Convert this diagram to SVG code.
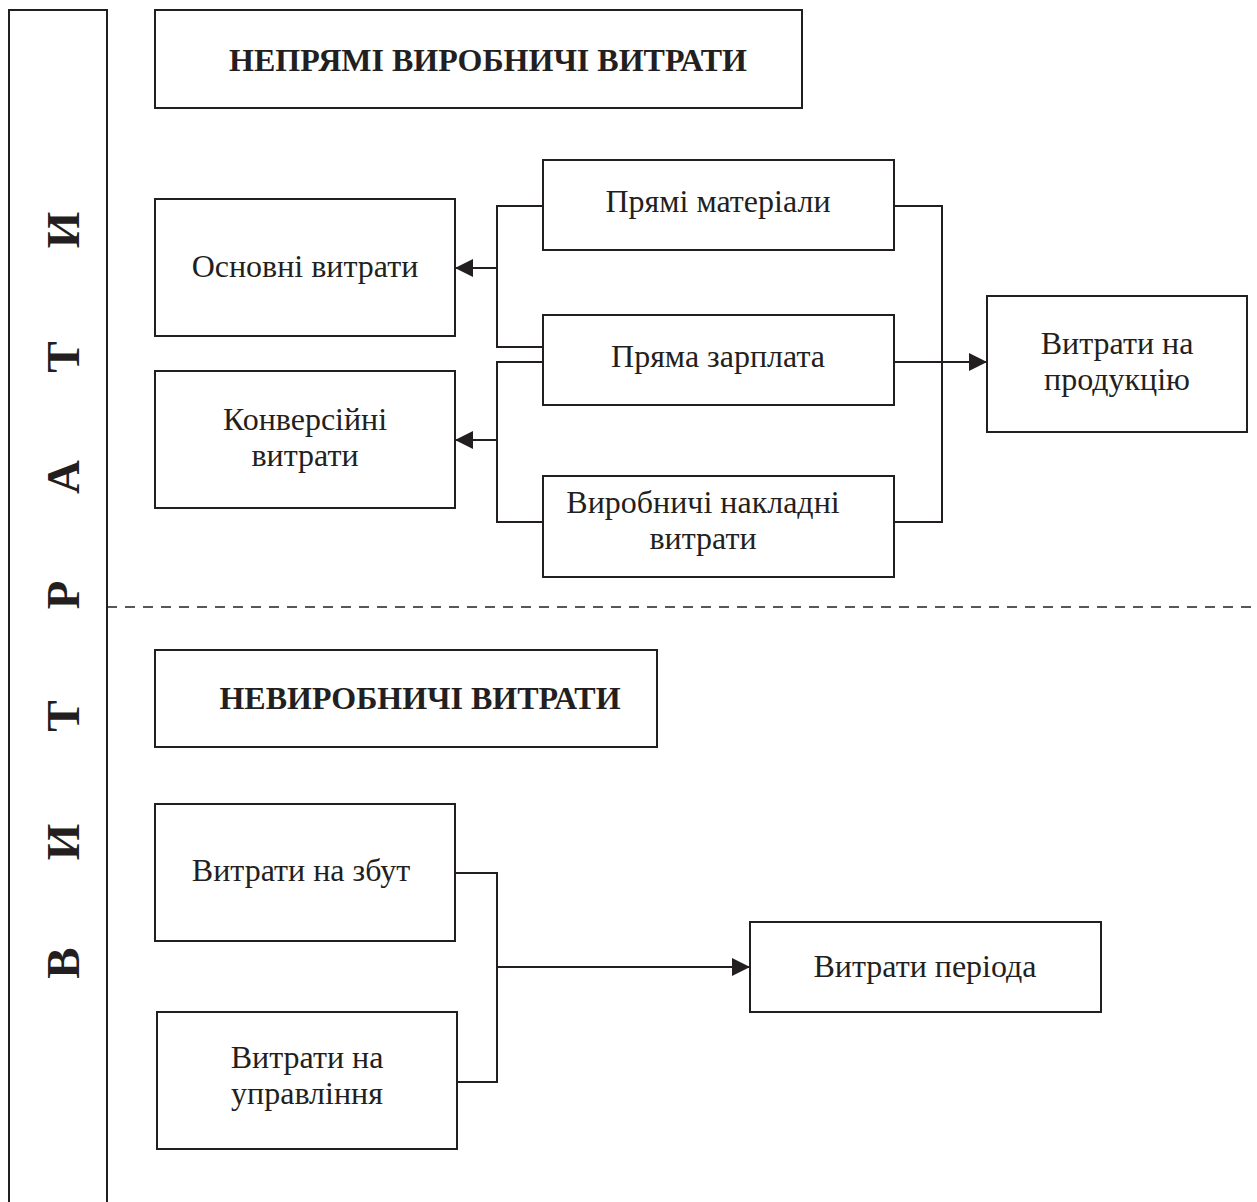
<svg xmlns="http://www.w3.org/2000/svg" width="1257" height="1202" viewBox="0 0 1257 1202">
<defs>
<style>
.box{fill:#fff;stroke:#231f20;stroke-width:2}
.ln{fill:none;stroke:#231f20;stroke-width:2}
.t{font-family:"Liberation Serif","Times New Roman",serif;font-size:32px;fill:#231f20;text-anchor:middle}
.b{font-family:"Liberation Serif","Times New Roman",serif;font-size:32px;font-weight:bold;fill:#231f20;text-anchor:middle}
.v{font-family:"Liberation Serif","Times New Roman",serif;font-size:47px;font-weight:bold;fill:#231f20;text-anchor:middle}
</style>
<marker id="ar" viewBox="0 0 10 10" refX="10" refY="5" markerWidth="18" markerHeight="18" markerUnits="userSpaceOnUse" orient="auto">
<path d="M0,0 L10,5 L0,10 z" fill="#231f20"/>
</marker>
</defs>
<rect width="1257" height="1202" fill="#fff"/>
<g id="side">
<path class="ln" d="M9,1202 V10 H107 V1202"/>
<text class="v" transform="translate(79,963) rotate(-90)">В</text>
<text class="v" transform="translate(79,842) rotate(-90)">И</text>
<text class="v" transform="translate(79,716) rotate(-90)">Т</text>
<text class="v" transform="translate(79,595) rotate(-90)">Р</text>
<text class="v" transform="translate(79,477) rotate(-90)">А</text>
<text class="v" transform="translate(79,357) rotate(-90)">Т</text>
<text class="v" transform="translate(79,230) rotate(-90)">И</text>
</g>
<g id="divider">
<line x1="107" y1="607" x2="1257" y2="607" stroke="#231f20" stroke-width="1.5" stroke-dasharray="10,8"/>
</g>
<g id="connectors">
<path class="ln" d="M543,206 H497 V347 H543"/>
<path class="ln" d="M497,268 H455" marker-end="url(#ar)"/>
<path class="ln" d="M543,362 H497 V522 H543"/>
<path class="ln" d="M497,440 H455" marker-end="url(#ar)"/>
<path class="ln" d="M894,206 H942 V522 H894"/>
<path class="ln" d="M894,362 H987" marker-end="url(#ar)"/>
<path class="ln" d="M455,873 H497 V1082 H457"/>
<path class="ln" d="M497,967 H750" marker-end="url(#ar)"/>
</g>
<g id="n-indirect">
<rect class="box" x="155" y="10" width="647" height="98"/>
<text class="b" x="488" y="71">НЕПРЯМІ ВИРОБНИЧІ ВИТРАТИ</text>
</g>
<g id="n-basic">
<rect class="box" x="155" y="199" width="300" height="137"/>
<text class="t" x="305" y="277">Основні витрати</text>
</g>
<g id="n-conv">
<rect class="box" x="155" y="371" width="300" height="137"/>
<text class="t" x="305" y="430">Конверсійні</text>
<text class="t" x="305" y="466">витрати</text>
</g>
<g id="n-mat">
<rect class="box" x="543" y="160" width="351" height="90"/>
<text class="t" x="718" y="212">Прямі матеріали</text>
</g>
<g id="n-wage">
<rect class="box" x="543" y="315" width="351" height="90"/>
<text class="t" x="718" y="367">Пряма зарплата</text>
</g>
<g id="n-overhead">
<rect class="box" x="543" y="476" width="351" height="101"/>
<text class="t" x="703" y="513">Виробничі накладні</text>
<text class="t" x="703" y="549">витрати</text>
</g>
<g id="n-product">
<rect class="box" x="987" y="296" width="260" height="136"/>
<text class="t" x="1117" y="354">Витрати на</text>
<text class="t" x="1117" y="390">продукцію</text>
</g>
<g id="n-nonprod">
<rect class="box" x="155" y="650" width="502" height="97"/>
<text class="b" x="420" y="709">НЕВИРОБНИЧІ ВИТРАТИ</text>
</g>
<g id="n-sales">
<rect class="box" x="155" y="804" width="300" height="137"/>
<text class="t" x="301" y="881">Витрати на збут</text>
</g>
<g id="n-admin">
<rect class="box" x="157" y="1012" width="300" height="137"/>
<text class="t" x="307" y="1068">Витрати на</text>
<text class="t" x="307" y="1104">управління</text>
</g>
<g id="n-period">
<rect class="box" x="750" y="922" width="351" height="90"/>
<text class="t" x="925" y="977">Витрати періода</text>
</g>
</svg>
